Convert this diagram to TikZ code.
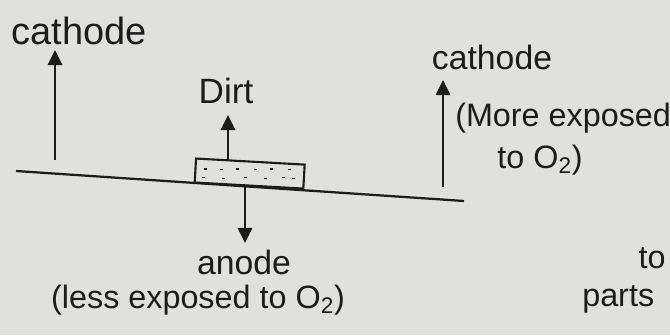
\documentclass[tikz,border=0pt]{standalone}
\usepackage{fontspec}
\setmainfont{Liberation Sans}
\usetikzlibrary{positioning,arrows.meta,calc}
\definecolor{paper}{HTML}{E0E0DC}
\definecolor{ink}{HTML}{1C1C1C}

\begin{document}
\begin{tikzpicture}[
  % Pencil-like strokes on a grey page.
  lbl/.style={font=\fontsize{23}{26}\selectfont, text=ink, inner sep=0pt},
  arr/.style={-{Triangle[length=3.8mm,width=3.6mm]}, ink, line width=1.8pt},
  dirtbox/.style={draw=ink, line width=1.5pt, minimum width=2.72cm, minimum height=0.6cm,
                  inner sep=0pt, rotate=-3.2, anchor=south}
]
\fill[paper] (0,0) rectangle (16.75,8.375);
\useasboundingbox (0,0) rectangle (16.75,8.375);

% metal surface
\coordinate (surfL) at (0.4,4.1);
\coordinate (surfR) at (11.6,3.35);
\draw[ink, line width=1.6pt] (surfL) -- (surfR);

\node[dirtbox] (dirt) at ($(surfL)!0.52!(surfR)$) {};
\foreach \dx/\dy in {-1.15/0.12, -0.75/0.1, -0.35/0.12, 0.1/0.1, 0.5/0.12, 0.95/0.1,
                     -1.2/-0.1, -0.7/-0.12, -0.15/-0.1, 0.35/-0.12, 0.8/-0.1, 1.05/-0.12}
  \draw[ink, line width=1.2pt] ([shift={(\dx,\dy)}]dirt.center) -- ++(0.08,0);

\node[lbl, font=\fontsize{27}{30}\selectfont] (cathodeL) at (1.98,7.6) {cathode};
\node[lbl, font=\fontsize{25}{28}\selectfont] (dirtlbl) at (5.65,6.1) {Dirt};
\node[lbl, font=\fontsize{24}{27}\selectfont] (anode) at (6.1,1.82) {anode};
\node[lbl] (less) at (4.95,0.88) {(less exposed to O\textsubscript{2})};
\node[lbl, font=\fontsize{24}{27}\selectfont] (cathodeR) at (12.3,6.95) {cathode};
\node[lbl, anchor=west] (more) at (11.375,5.425) {(More exposed};
\node[lbl] (moreto) at (13.5,4.375) {to O\textsubscript{2})};
\node[lbl] (to) at (16.3,1.925) {to};
\node[lbl, anchor=west] (parts) at (14.55,0.88) {parts};

\coordinate (lcBase) at (1.375,4.375);
\coordinate (lcTip) at (1.375,7.125);
\coordinate (rcBase) at (11.075,3.7);
\coordinate (rcTip) at (11.075,6.375);
\coordinate (dirtTip) at (5.7,5.5);
\coordinate (anodeTip) at (6.125,2.3);

\draw[arr] (lcBase) -- (lcTip);
\draw[arr] (rcBase) -- (rcTip);
\draw[arr] (dirt.north -| dirtTip) -- (dirtTip);
\draw[arr] (dirt.south -| anodeTip) -- (anodeTip);
\end{tikzpicture}
\end{document}
